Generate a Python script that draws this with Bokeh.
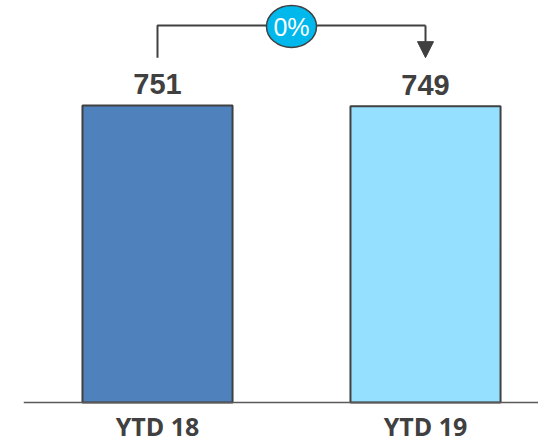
from bokeh.plotting import figure
from bokeh.models import ColumnDataSource, Range1d, Span, Arrow, NormalHead
from bokeh.core.properties import value
from bokeh.embed import file_html
from bokeh.resources import INLINE

# ---- data ----
categories = ["YTD 18", "YTD 19"]
values = [751, 749]
value_labels = ["751", "749"]
change_label = "0%"
bar_colors = ["#4F81BD", "#96E0FF"]

x_pos = [0, 1]
src = ColumnDataSource(dict(x=x_pos, top=values, base=[0, 0], cat=categories,
                            lab=value_labels, color=bar_colors))

p = figure(width=538, height=439, output_backend="svg", toolbar_location=None,
           x_axis_location=None, y_axis_location=None,
           min_border_left=23, min_border_right=0, min_border_top=0, min_border_bottom=0)
p.x_range = Range1d(-0.5, 1.4216)
p.y_range = Range1d(-93.6, 1016.5)
p.xgrid.visible = False
p.ygrid.visible = False
p.outline_line_color = None
p.background_fill_color = "white"
p.border_fill_color = "white"

dark = "#404040"

p.vbar(x="x", top="top", bottom=0, width=0.56, source=src,
       fill_color="color", line_color=dark, line_width=2)

# baseline
p.add_layout(Span(location=0, dimension="width", line_color="#595959", line_width=1.5))

# value labels
p.text(x="x", y="top", text="lab", source=src, text_align="center",
       text_baseline="alphabetic", y_offset=-21, text_color=dark,
       text_font=value("Liberation Sans"), text_font_style="bold", text_font_size="29px")

# category labels
p.text(x="x", y="base", text="cat", source=src, text_align="center",
       text_baseline="middle", y_offset=24, text_color=dark,
       text_font=value("Open Sans"), text_font_style="bold", text_font_size="25px")

# bracket
y_low = 872
y_high = 953
p.line(x=[x_pos[0], x_pos[0], x_pos[1]], y=[y_low, y_high, y_high],
       line_color=dark, line_width=2)
p.add_layout(Arrow(end=NormalHead(size=16, fill_color=dark, line_color=dark, line_width=1),
                   x_start=x_pos[1], y_start=y_high, x_end=x_pos[1], y_end=y_low,
                   line_color=dark, line_width=2))

xm = (x_pos[0] + x_pos[1]) / 2
p.ellipse(x=[xm], y=[y_high - 2], width=50, height=42, width_units="screen",
          height_units="screen", fill_color="#00B8EC", line_color=dark, line_width=1.5)
p.text(x=[xm], y=[y_high], text=[change_label], text_align="center",
       text_baseline="middle", text_color="white", y_offset=1,
       text_font=value("Liberation Sans"), text_font_size="25px")

open("out.html", "w").write(file_html(p, INLINE))
